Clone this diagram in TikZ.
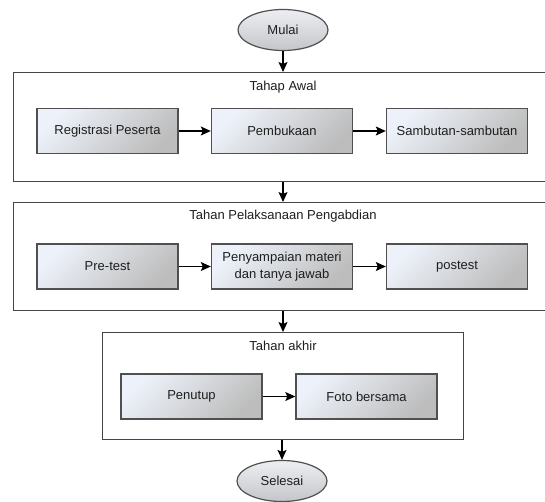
\documentclass[tikz,border=0pt]{standalone}
\usepackage{fontspec}
\setmainfont{Liberation Sans}
\usetikzlibrary{arrows.meta,shapes.geometric}
\definecolor{boxline}{HTML}{505050}
\definecolor{frameline}{HTML}{454545}
\definecolor{procTop}{HTML}{EDF2FA}
\definecolor{procBot}{HTML}{BDBDBD}
\definecolor{ellTop}{HTML}{ECEEF2}
\definecolor{ellBot}{HTML}{C4C6CA}
\definecolor{txt}{HTML}{1E1E1E}
\begin{document}
\begin{tikzpicture}[x=1pt,y=-1pt,
  every node/.style={font=\fontsize{13}{16.5}\selectfont, text=txt},
  proc/.style={draw=boxline, line width=1.4pt, shading=axis, top color=procTop, bottom color=procBot, shading angle=45, minimum width=141pt, minimum height=45pt, inner sep=0pt, align=center},
  frame/.style={draw=frameline, line width=1.2pt, fill=white, anchor=north west, inner sep=0pt},
  term/.style={ellipse, draw=boxline, line width=1.2pt, shading=axis, top color=ellTop, bottom color=ellBot, minimum width=90pt, minimum height=41pt, inner sep=0pt},
  title/.style={inner sep=0pt},
  arr/.style={draw=black, line width=1.1pt, -{Stealth[length=10pt,width=9pt,inset=2pt]}}]
\clip (0,0) rectangle (545,501);
% frames
\node[frame, minimum width=537pt, minimum height=109pt] (f1) at (13,72) {};
\node[frame, minimum width=537pt, minimum height=108pt] (f2) at (13,202) {};
\node[frame, minimum width=361pt, minimum height=107pt] (f3) at (102,332) {};
% titles
\node[title] (t1) at (283,87) {Tahap Awal};
\node[title] (t2) at (283,216) {Tahan Pelaksanaan Pengabdian};
\node[title] (t3) at (283,346) {Tahan akhir};
% terminals
\node[term] (mulai) at (283,30) {Mulai};
\node[term] (selesai) at (282,481) {Selesai};
% row 1
\node[proc] (reg) at (107.5,131) {Registrasi Peserta};
\node[proc] (buka) at (282,131) {Pembukaan};
\node[proc] (samb) at (457,131) {Sambutan-sambutan};
% row 2
\node[proc] (pre) at (107.5,266.5) {Pre-test};
\node[proc] (mat) at (282,266.5) {Penyampaian materi\\dan tanya jawab};
\node[proc] (post) at (457,266.5) {postest};
% row 3
\node[proc] (tutup) at (191.5,396.5) {Penutup};
\node[proc] (foto) at (366.5,396.5) {Foto bersama};
% arrows
\draw[arr] (reg) -- (buka);
\draw[arr] (buka) -- (samb);
\draw[arr] (pre) -- (mat);
\draw[arr] (mat) -- (post);
\draw[arr] (tutup) -- (foto);
\draw[arr] (mulai.south) -- (mulai.south |- f1.north);
\draw[arr] (mulai.south |- f1.south) -- (mulai.south |- f2.north);
\draw[arr] (mulai.south |- f2.south) -- (mulai.south |- f3.north);
\draw[arr] (selesai.north |- f3.south) -- (selesai.north);
\end{tikzpicture}
\end{document}
